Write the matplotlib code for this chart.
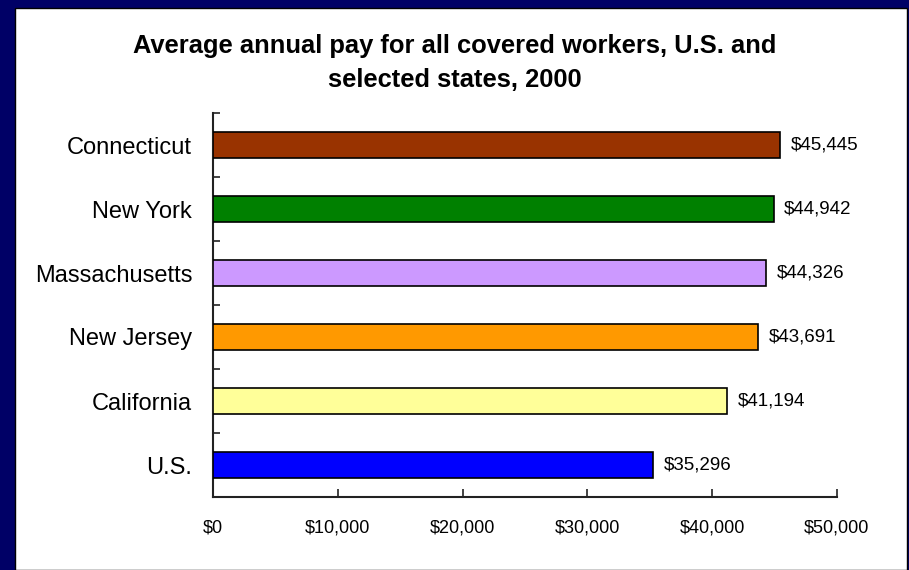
import numpy as np
import matplotlib as mpl
import matplotlib.pyplot as plt
from matplotlib.patches import Rectangle
from matplotlib.ticker import FuncFormatter, FixedLocator

mpl.rcParams['font.family'] = ['Liberation Sans', 'DejaVu Sans']

# data (top to bottom as shown)
states = ["Connecticut", "New York", "Massachusetts", "New Jersey", "California", "U.S."]
pay = [45445, 44942, 44326, 43691, 41194, 35296]
colors = ["#993300", "#008000", "#CC99FF", "#FF9900", "#FFFF99", "#0000FF"]
title = "Average annual pay for all covered workers, U.S. and\nselected states, 2000"

fig = plt.figure(figsize=(9.09, 5.70), dpi=100)
fig.patch.set_facecolor("#000066")

# white slide panel
W, H = 909.0, 570.0
fig.patches.append(Rectangle((15 / W, 0), (907 - 15) / W, (570 - 8) / H,
                             transform=fig.transFigure, facecolor="white",
                             edgecolor="black", linewidth=1.0, zorder=-5))

ax = fig.add_axes([213 / W, 73 / H, 624 / W, 384 / H])
ax.set_facecolor("none")

y = np.arange(len(states))[::-1]
ax.barh(y, pay, height=0.42, color=colors, edgecolor="black", linewidth=1.2, zorder=3)

for yi, v in zip(y, pay):
    ax.annotate("${:,}".format(v), (v, yi), xytext=(7.5, 0), textcoords="offset points",
                va="center", ha="left", fontsize=13.5)

ax.set_xlim(0, 50000)
ax.set_ylim(-0.5, len(states) - 0.5)
ax.set_xticks(np.arange(0, 50001, 10000))
ax.xaxis.set_major_formatter(FuncFormatter(lambda v, p: "${:,.0f}".format(v)))
ax.set_yticks(y)
ax.set_yticklabels(states)
ax.yaxis.set_minor_locator(FixedLocator(np.arange(-0.5, len(states), 1.0)))

ax.tick_params(axis="y", which="major", length=0, pad=15, labelsize=17)
ax.tick_params(axis="y", which="minor", length=5, direction="in", width=1.2, color="#222222")
ax.tick_params(axis="x", which="major", length=6, direction="in", width=1.2, color="#222222",
               pad=16, labelsize=13)

for s in ["top", "right"]:
    ax.spines[s].set_visible(False)
for s in ["left", "bottom"]:
    ax.spines[s].set_linewidth(1.5)
    ax.spines[s].set_color("#222222")

fig.text(0.5, 1 - 63 / H, title, ha="center", va="center", fontsize=18.4,
         fontweight="bold", linespacing=1.52)

fig.savefig("out.png", dpi=100, facecolor=fig.get_facecolor())
